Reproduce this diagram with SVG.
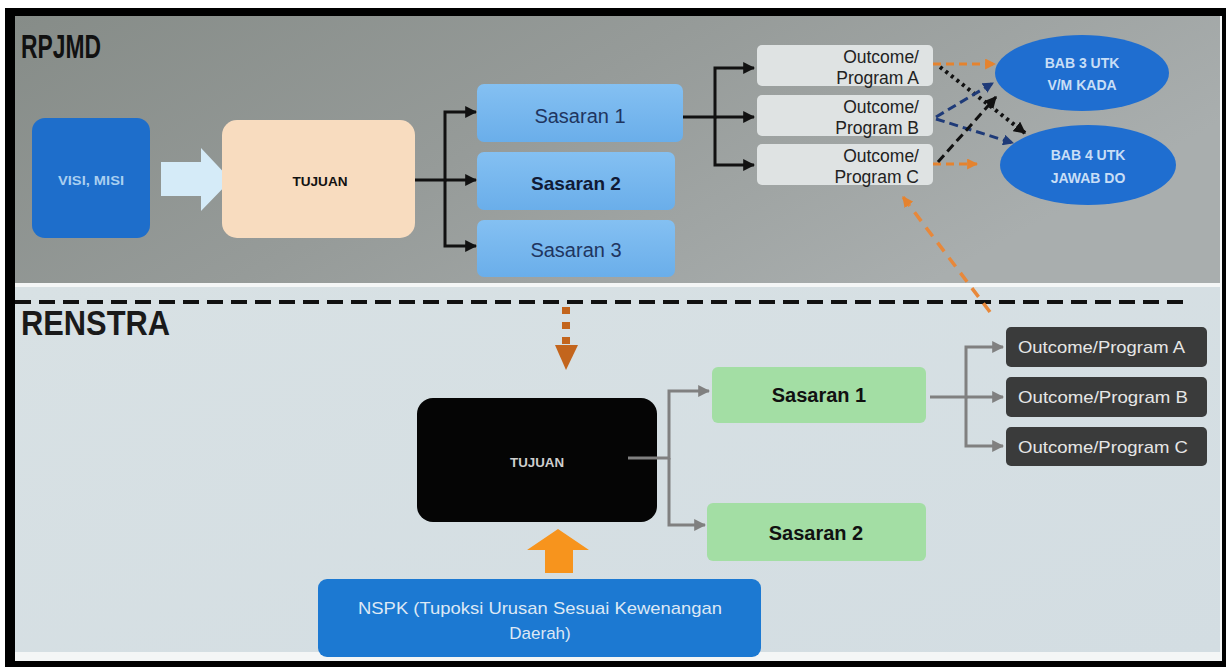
<svg xmlns="http://www.w3.org/2000/svg" width="1226" height="667" viewBox="0 0 1226 667">
<style>
.t{font-family:"Liberation Sans",Arial,sans-serif}
.b{font-weight:bold}
.sas{font-size:20px;fill:#1f3560;text-anchor:middle}
.oc{font-size:17.5px;fill:#222;text-anchor:end}
.bab{font-size:14px;font-weight:bold;fill:#c8def6;text-anchor:middle}
.ocd{font-size:17px;fill:#e6e6e6}
.blk{fill:none;stroke:#111;stroke-width:3}
.gry{fill:none;stroke:#808080;stroke-width:3}
</style>
<defs>
<linearGradient id="topbg" x1="0" y1="0" x2="1" y2="0.4">
<stop offset="0" stop-color="#868c88"/>
<stop offset="0.5" stop-color="#969b99"/>
<stop offset="1" stop-color="#a9aeae"/>
</linearGradient>
<linearGradient id="botbg" x1="0" y1="0" x2="1" y2="1">
<stop offset="0" stop-color="#d8e1e4"/>
<stop offset="1" stop-color="#d3dde2"/>
</linearGradient>
<linearGradient id="sasg" x1="0" y1="0" x2="0" y2="1">
<stop offset="0" stop-color="#84c0f2"/>
<stop offset="1" stop-color="#6aaeea"/>
</linearGradient>
<marker id="ahk" viewBox="0 0 10 10" refX="9" refY="5" markerWidth="12" markerHeight="12" markerUnits="userSpaceOnUse" orient="auto"><path d="M0,0 L10,5 L0,10 z" fill="#111"/></marker>
<marker id="ahg" viewBox="0 0 10 10" refX="9" refY="5" markerWidth="12" markerHeight="12" markerUnits="userSpaceOnUse" orient="auto"><path d="M0,0 L10,5 L0,10 z" fill="#808080"/></marker>
<marker id="aho" viewBox="0 0 10 10" refX="9" refY="5" markerWidth="11" markerHeight="11" markerUnits="userSpaceOnUse" orient="auto"><path d="M0,0 L10,5 L0,10 z" fill="#e5832f"/></marker>
<marker id="ahn" viewBox="0 0 10 10" refX="9" refY="5" markerWidth="11" markerHeight="11" markerUnits="userSpaceOnUse" orient="auto"><path d="M0,0 L10,5 L0,10 z" fill="#1e3a78"/></marker>
<marker id="ahd" viewBox="0 0 10 10" refX="9" refY="5" markerWidth="12" markerHeight="12" markerUnits="userSpaceOnUse" orient="auto"><path d="M0,0 L10,5 L0,10 z" fill="#111"/></marker>
</defs>

<!-- frame & backgrounds -->
<rect x="0" y="0" width="1226" height="667" fill="#ffffff"/>
<rect x="5" y="8" width="1221" height="659" fill="#000"/>
<rect x="15" y="16" width="1207" height="645" fill="#f4f6f6"/>
<rect x="15" y="16" width="1205" height="267" fill="url(#topbg)"/>
<rect x="15" y="287" width="1205" height="365" fill="url(#botbg)"/>

<!-- section titles -->
<text class="t b" x="21" y="58" font-size="34" textLength="80" lengthAdjust="spacingAndGlyphs" fill="#111">RPJMD</text>
<text class="t b" x="21" y="335" font-size="35" textLength="149" lengthAdjust="spacingAndGlyphs" fill="#1a1a1a">RENSTRA</text>

<!-- separator -->
<line x1="15" y1="302" x2="1188" y2="302" stroke="#111" stroke-width="4" stroke-dasharray="16 8"/>

<!-- ===== RPJMD nodes ===== -->
<g id="visi-misi">
<rect x="32" y="118" width="118" height="120" rx="13" fill="#1e6ecb"/>
<text class="t b" x="91" y="185" font-size="12.5" fill="#a9cff0" text-anchor="middle" textLength="66" lengthAdjust="spacingAndGlyphs">VISI, MISI</text>
</g>
<g id="block-arrow-1">
<polygon points="161,162 201,162 201,148 231,180 201,211 201,196 161,196" fill="#d5ebf8"/>
</g>
<g id="tujuan-top">
<rect x="222" y="120" width="193" height="118" rx="15" fill="#f8dcbf"/>
<text class="t b" x="320" y="186" font-size="13" fill="#111" text-anchor="middle" textLength="55" lengthAdjust="spacingAndGlyphs">TUJUAN</text>
</g>
<g id="sasaran-1-top">
<rect x="477" y="84" width="206" height="58" rx="7" fill="url(#sasg)"/>
<text class="t sas" x="580" y="123">Sasaran 1</text>
</g>
<g id="sasaran-2-top">
<rect x="477" y="152" width="198" height="58" rx="7" fill="url(#sasg)"/>
<text class="t b" x="576" y="190" font-size="19" fill="#101a35" text-anchor="middle">Sasaran 2</text>
</g>
<g id="sasaran-3-top">
<rect x="477" y="220" width="198" height="57" rx="7" fill="url(#sasg)"/>
<text class="t sas" x="576" y="257">Sasaran 3</text>
</g>
<g id="outcome-a-top">
<rect x="757" y="45" width="176" height="41" rx="5" fill="#dfe3e3"/>
<text class="t oc" x="919" y="63">Outcome/</text>
<text class="t oc" x="919" y="84">Program A</text>
</g>
<g id="outcome-b-top">
<rect x="757" y="95" width="176" height="41" rx="5" fill="#dfe3e3"/>
<text class="t oc" x="919" y="113">Outcome/</text>
<text class="t oc" x="919" y="134">Program B</text>
</g>
<g id="outcome-c-top">
<rect x="757" y="144" width="176" height="41" rx="5" fill="#dfe3e3"/>
<text class="t oc" x="919" y="162">Outcome/</text>
<text class="t oc" x="919" y="183">Program C</text>
</g>
<g id="bab3">
<ellipse cx="1082" cy="73" rx="87" ry="38" fill="#1f6ed0"/>
<text class="t bab" x="1082" y="68">BAB 3 UTK</text>
<text class="t bab" x="1082" y="90">V/M KADA</text>
</g>
<g id="bab4">
<ellipse cx="1088" cy="165" rx="88" ry="40" fill="#1f6ed0"/>
<text class="t bab" x="1088" y="160">BAB 4 UTK</text>
<text class="t bab" x="1088" y="183">JAWAB DO</text>
</g>

<!-- ===== RENSTRA nodes ===== -->
<g id="tujuan-bottom">
<rect x="417" y="398" width="240" height="124" rx="16" fill="#050505"/>
<text class="t b" x="537" y="467" font-size="13" fill="#cfcfcf" text-anchor="middle" textLength="54" lengthAdjust="spacingAndGlyphs">TUJUAN</text>
</g>
<g id="sasaran-1-bottom">
<rect x="712" y="367" width="214" height="56" rx="6" fill="#a3dea4"/>
<text class="t b" x="819" y="402" font-size="20" fill="#111" text-anchor="middle">Sasaran 1</text>
</g>
<g id="sasaran-2-bottom">
<rect x="707" y="503" width="219" height="58" rx="6" fill="#a3dea4"/>
<text class="t b" x="816" y="540" font-size="20" fill="#111" text-anchor="middle">Sasaran 2</text>
</g>
<g id="outcome-a-bottom">
<rect x="1006" y="327" width="201" height="40" rx="5" fill="#3a3b3b"/>
<text class="t ocd" x="1018" y="353" textLength="167" lengthAdjust="spacingAndGlyphs">Outcome/Program A</text>
</g>
<g id="outcome-b-bottom">
<rect x="1006" y="377" width="201" height="40" rx="5" fill="#3a3b3b"/>
<text class="t ocd" x="1018" y="403" textLength="170" lengthAdjust="spacingAndGlyphs">Outcome/Program  B</text>
</g>
<g id="outcome-c-bottom">
<rect x="1006" y="427" width="201" height="39" rx="5" fill="#3a3b3b"/>
<text class="t ocd" x="1018" y="453" textLength="170" lengthAdjust="spacingAndGlyphs">Outcome/Program  C</text>
</g>
<g id="block-arrow-up">
<polygon points="545,573 573,573 573,550 589,550 558,529 527,550 545,550" fill="#f7941d"/>
</g>
<g id="nspk">
<rect x="318" y="579" width="443" height="78" rx="9" fill="#1c79d2"/>
<text class="t" x="540" y="614" font-size="17" fill="#dde8f5" text-anchor="middle" textLength="364" lengthAdjust="spacingAndGlyphs">NSPK (Tupoksi Urusan Sesuai Kewenangan</text>
<text class="t" x="540" y="639" font-size="17" fill="#dde8f5" text-anchor="middle">Daerah)</text>
</g>

<!-- ===== connectors ===== -->
<g id="connectors">
<path class="blk" d="M415,180 H445 V112 H476" marker-end="url(#ahk)"/>
<path class="blk" d="M445,180 H476" marker-end="url(#ahk)"/>
<path class="blk" d="M445,180 V246 H476" marker-end="url(#ahk)"/>
<path class="blk" d="M683,117 H715 V68 H754" marker-end="url(#ahk)"/>
<path class="blk" d="M715,117 H754" marker-end="url(#ahk)"/>
<path class="blk" d="M715,117 V165 H754" marker-end="url(#ahk)"/>

<path d="M933,64 H995" fill="none" stroke="#e5832f" stroke-width="3" stroke-dasharray="8 5" marker-end="url(#aho)"/>
<path d="M933,164 H977" fill="none" stroke="#e5832f" stroke-width="3" stroke-dasharray="8 5" marker-end="url(#aho)"/>
<path d="M940,67 L1025,133" fill="none" stroke="#111" stroke-width="4" stroke-dasharray="3 4" marker-end="url(#ahd)"/>
<path d="M936,117 L993,83" fill="none" stroke="#1e3a78" stroke-width="3" stroke-dasharray="9 5" marker-end="url(#ahn)"/>
<path d="M936,119 L1013,143" fill="none" stroke="#1e3a78" stroke-width="3" stroke-dasharray="9 5" marker-end="url(#ahn)"/>
<path d="M938,162 L996,97" fill="none" stroke="#111" stroke-width="3" stroke-dasharray="9 5" marker-end="url(#ahd)"/>
<path d="M990,312 L903,197" fill="none" stroke="#e8883a" stroke-width="3.5" stroke-dasharray="11 8" marker-end="url(#aho)"/>

<path d="M566,307 V345" fill="none" stroke="#c3651d" stroke-width="8" stroke-dasharray="7 8"/>
<polygon points="555,345 578,345 566,370" fill="#c3651d"/>

<path class="gry" d="M628,458 H669 V391 H709" marker-end="url(#ahg)"/>
<path class="gry" d="M669,458 V525 H705" marker-end="url(#ahg)"/>
<path class="gry" d="M930,397 H966 V347 H1003" marker-end="url(#ahg)"/>
<path class="gry" d="M966,397 H1003" marker-end="url(#ahg)"/>
<path class="gry" d="M966,397 V446 H1003" marker-end="url(#ahg)"/>
</g>
</svg>
